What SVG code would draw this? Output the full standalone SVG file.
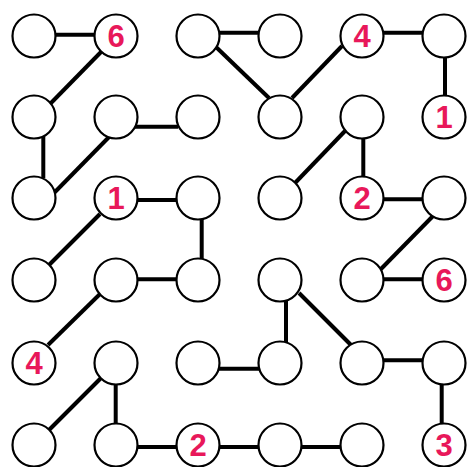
<svg xmlns="http://www.w3.org/2000/svg" width="471" height="467" viewBox="0 0 471 467">
<style>
.c{fill:#fff;stroke:#000;stroke-width:2.2}
.e line{stroke:#000;stroke-width:4}
.t{font-family:"Liberation Sans",Arial,sans-serif;font-weight:bold;font-size:31px;fill:#e8185a;text-anchor:middle}
</style>
<rect width="471" height="467" fill="#fff"/>
<g id="connectors" class="e">
<line x1="54" y1="34.7" x2="95" y2="34.7"/>
<line x1="101" y1="52" x2="51" y2="103"/>
<line x1="43.3" y1="136" x2="43.3" y2="178"/>
<line x1="54" y1="193" x2="110" y2="136"/>
<line x1="134" y1="126.7" x2="178" y2="126.7"/>
<line x1="137" y1="200" x2="177" y2="200"/>
<line x1="201.7" y1="219" x2="201.7" y2="260"/>
<line x1="100" y1="214" x2="49" y2="265"/>
<line x1="137" y1="279.3" x2="177" y2="279.3"/>
<line x1="100" y1="294" x2="48" y2="345"/>
<line x1="101" y1="378" x2="49" y2="430"/>
<line x1="115.7" y1="383" x2="115.7" y2="425"/>
<line x1="137" y1="447" x2="177" y2="447"/>
<line x1="219" y1="447" x2="259" y2="447"/>
<line x1="301" y1="447" x2="341" y2="447"/>
<line x1="219" y1="368.7" x2="259" y2="368.7"/>
<line x1="286" y1="301" x2="286" y2="343"/>
<line x1="299" y1="293" x2="351" y2="345"/>
<line x1="383" y1="360.3" x2="424" y2="360.3"/>
<line x1="441.7" y1="385" x2="441.7" y2="425"/>
<line x1="383" y1="279.3" x2="424" y2="279.3"/>
<line x1="380" y1="270" x2="434" y2="215"/>
<line x1="383" y1="199.3" x2="424" y2="199.3"/>
<line x1="363.3" y1="137" x2="363.3" y2="178"/>
<line x1="345" y1="131" x2="295" y2="183"/>
<line x1="445" y1="57" x2="445" y2="96"/>
<line x1="383" y1="32.7" x2="424" y2="32.7"/>
<line x1="342" y1="46" x2="292" y2="98"/>
<line x1="219" y1="32.7" x2="259" y2="32.7"/>
<line x1="216" y1="47" x2="269" y2="98"/>
</g>
<g id="n11"><circle class="c" cx="34" cy="36" r="21.5"/></g>
<g id="n12"><circle class="c" cx="116" cy="36" r="21.5"/><text class="t" x="116" y="46.5">6</text></g>
<g id="n13"><circle class="c" cx="198" cy="36" r="21.5"/></g>
<g id="n14"><circle class="c" cx="280" cy="36" r="21.5"/></g>
<g id="n15"><circle class="c" cx="362" cy="36" r="21.5"/><text class="t" x="362" y="46.5">4</text></g>
<g id="n16"><circle class="c" cx="444" cy="36" r="21.5"/></g>
<g id="n21"><circle class="c" cx="34" cy="117" r="21.5"/></g>
<g id="n22"><circle class="c" cx="116" cy="117" r="21.5"/></g>
<g id="n23"><circle class="c" cx="198" cy="117" r="21.5"/></g>
<g id="n24"><circle class="c" cx="280" cy="117" r="21.5"/></g>
<g id="n25"><circle class="c" cx="362" cy="117" r="21.5"/></g>
<g id="n26"><circle class="c" cx="444" cy="117" r="21.5"/><text class="t" x="444" y="127.5">1</text></g>
<g id="n31"><circle class="c" cx="34" cy="198" r="21.5"/></g>
<g id="n32"><circle class="c" cx="116" cy="198" r="21.5"/><text class="t" x="116" y="208.5">1</text></g>
<g id="n33"><circle class="c" cx="198" cy="198" r="21.5"/></g>
<g id="n34"><circle class="c" cx="280" cy="198" r="21.5"/></g>
<g id="n35"><circle class="c" cx="362" cy="198" r="21.5"/><text class="t" x="362" y="208.5">2</text></g>
<g id="n36"><circle class="c" cx="444" cy="198" r="21.5"/></g>
<g id="n41"><circle class="c" cx="34" cy="280" r="21.5"/></g>
<g id="n42"><circle class="c" cx="116" cy="280" r="21.5"/></g>
<g id="n43"><circle class="c" cx="198" cy="280" r="21.5"/></g>
<g id="n44"><circle class="c" cx="280" cy="280" r="21.5"/></g>
<g id="n45"><circle class="c" cx="362" cy="280" r="21.5"/></g>
<g id="n46"><circle class="c" cx="444" cy="280" r="21.5"/><text class="t" x="444" y="290.5">6</text></g>
<g id="n51"><circle class="c" cx="34" cy="363" r="21.5"/><text class="t" x="34" y="373.5">4</text></g>
<g id="n52"><circle class="c" cx="116" cy="363" r="21.5"/></g>
<g id="n53"><circle class="c" cx="198" cy="363" r="21.5"/></g>
<g id="n54"><circle class="c" cx="280" cy="363" r="21.5"/></g>
<g id="n55"><circle class="c" cx="362" cy="363" r="21.5"/></g>
<g id="n56"><circle class="c" cx="444" cy="363" r="21.5"/></g>
<g id="n61"><circle class="c" cx="34" cy="445" r="21.5"/></g>
<g id="n62"><circle class="c" cx="116" cy="445" r="21.5"/></g>
<g id="n63"><circle class="c" cx="198" cy="445" r="21.5"/><text class="t" x="198" y="455.5">2</text></g>
<g id="n64"><circle class="c" cx="280" cy="445" r="21.5"/></g>
<g id="n65"><circle class="c" cx="362" cy="445" r="21.5"/></g>
<g id="n66"><circle class="c" cx="444" cy="445" r="21.5"/><text class="t" x="444" y="455.5">3</text></g>
</svg>
